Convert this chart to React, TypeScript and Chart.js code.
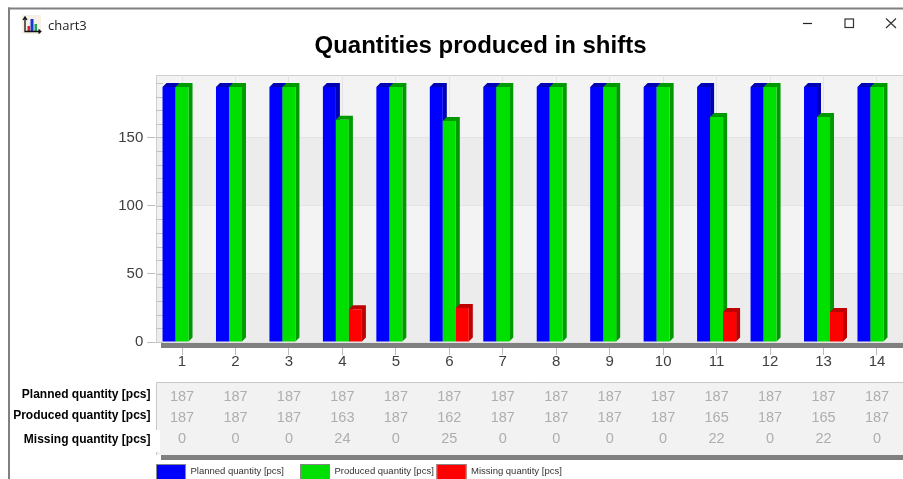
import React, { useEffect, useRef } from "react";
import { Chart, registerables } from "chart.js";

Chart.register(...registerables);

const shifts = ["1", "2", "3", "4", "5", "6", "7", "8", "9", "10", "11", "12", "13", "14"];
const planned = [187, 187, 187, 187, 187, 187, 187, 187, 187, 187, 187, 187, 187, 187];
const produced = [187, 187, 187, 163, 187, 162, 187, 187, 187, 187, 165, 187, 165, 187];
const missing = [0, 0, 0, 24, 0, 25, 0, 0, 0, 0, 22, 0, 22, 0];

const seriesLabels = ["Planned quantity [pcs]", "Produced quantity [pcs]", "Missing quantity [pcs]"];
const frontColors = ["#0000ff", "#00e000", "#ff0000"];
const sideColors = ["#0000b4", "#009a00", "#bf0000"];

const chartTitle = "Quantities produced in shifts";
const windowTitle = "chart3";

const SANS = '"Liberation Sans", Arial, sans-serif';
const DEPTH = 4;

// Wall bands, wall edges and the window frame sit beneath the scales.
const backdrop = {
  id: "backdrop",
  beforeDraw(chart: any) {
    const { ctx, chartArea: a, scales } = chart;
    const y = scales.y;
    ctx.save();
    ctx.fillStyle = "#ffffff";
    ctx.fillRect(0, 0, chart.width, chart.height);

    const wallLeft = 156;
    const edges = [0, 50, 100, 150, y.max];
    edges.slice(0, -1).forEach((v, i) => {
      const top = y.getPixelForValue(edges[i + 1]);
      const bottom = y.getPixelForValue(v);
      ctx.fillStyle = i % 2 === 0 ? "#ececec" : "#f3f3f3";
      ctx.fillRect(wallLeft, top, a.right - wallLeft, bottom - top);
    });

    ctx.strokeStyle = "#cfcfcf";
    ctx.lineWidth = 1;
    ctx.beginPath();
    ctx.moveTo(wallLeft + 0.5, y.getPixelForValue(0));
    ctx.lineTo(wallLeft + 0.5, a.top + 0.5);
    ctx.lineTo(chart.width, a.top + 0.5);
    ctx.stroke();

    // Window frame
    ctx.fillStyle = "#808080";
    ctx.fillRect(8, 7.5, chart.width, 2);
    ctx.fillRect(8, 7.5, 2, chart.height);

    // Window icon
    ctx.fillStyle = "#f6f1e7";
    ctx.fillRect(22, 15, 19, 19);
    ctx.fillStyle = "#e02020";
    ctx.fillRect(27.5, 26, 2.5, 5);
    ctx.fillStyle = "#1a35d8";
    ctx.fillRect(30.5, 19, 3, 12);
    ctx.fillStyle = "#17a35f";
    ctx.fillRect(34.5, 24, 2.5, 7);
    ctx.strokeStyle = "#111111";
    ctx.lineWidth = 1.3;
    ctx.beginPath();
    ctx.moveTo(23, 20);
    ctx.lineTo(25, 17);
    ctx.lineTo(27, 20);
    ctx.moveTo(25, 17);
    ctx.lineTo(25, 31.5);
    ctx.lineTo(40.5, 31.5);
    ctx.moveTo(38.5, 29.5);
    ctx.lineTo(40.8, 31.5);
    ctx.lineTo(38.5, 33.5);
    ctx.stroke();

    ctx.fillStyle = "#222222";
    ctx.font = '13px "Open Sans", sans-serif';
    ctx.textAlign = "left";
    ctx.textBaseline = "middle";
    ctx.fillText(windowTitle, 48, 26);

    // Window buttons
    ctx.strokeStyle = "#222222";
    ctx.lineWidth = 1.2;
    ctx.beginPath();
    ctx.moveTo(803, 23.5);
    ctx.lineTo(812, 23.5);
    ctx.stroke();
    ctx.strokeStyle = "#333333";
    ctx.strokeRect(845, 19, 8.5, 8.5);
    ctx.beginPath();
    ctx.moveTo(886, 18.5);
    ctx.lineTo(896, 28);
    ctx.moveTo(896, 18.5);
    ctx.lineTo(886, 28);
    ctx.stroke();

    ctx.fillStyle = "#000000";
    ctx.font = `bold 24px ${SANS}`;
    ctx.textAlign = "center";
    ctx.fillText(chartTitle, 480.5, 46.5);
    ctx.restore();
  },
};

// Extruded bars: the side and top faces come from each bar element, and the
// series are painted left to right so a neighbour covers the earlier side face.
const extrudedBars = {
  id: "extrudedBars",
  beforeDatasetsDraw(chart: any) {
    const { ctx, chartArea: a, scales } = chart;
    const floorY = scales.y.getPixelForValue(0);

    // Minor ticks on the wall
    ctx.save();
    ctx.strokeStyle = "#c4c4c4";
    ctx.lineWidth = 1;
    scales.y.ticks.forEach((t: any) => {
      const py = Math.round(scales.y.getPixelForValue(t.value)) + 0.5;
      ctx.beginPath();
      ctx.moveTo(156, py);
      ctx.lineTo(163, py);
      ctx.stroke();
    });

    // Floor
    ctx.fillStyle = "#808080";
    ctx.fillRect(161, floorY + 1, chart.width, 5);

    chart.data.datasets.forEach((ds: any, i: number) => {
      const meta = chart.getDatasetMeta(i);
      meta.data.forEach((bar: any, j: number) => {
        if (!ds.data[j]) return;
        const { x, y, width, base } = bar.getProps(["x", "y", "width", "base"], true);
        const l = x - width / 2;
        const r = x + width / 2;
        ctx.fillStyle = sideColors[i];
        ctx.beginPath();
        ctx.moveTo(l, y);
        ctx.lineTo(l + DEPTH, y - DEPTH);
        ctx.lineTo(r + DEPTH, y - DEPTH);
        ctx.lineTo(r + DEPTH, base - DEPTH);
        ctx.lineTo(r, base);
        ctx.lineTo(r, y);
        ctx.closePath();
        ctx.fill();
        bar.draw(ctx, a);
      });
    });
    ctx.restore();
    return false;
  },
};

// Data table beneath the axis and the legend row at the bottom edge.
const tableAndLegend = {
  id: "tableAndLegend",
  afterDraw(chart: any) {
    const { ctx, scales } = chart;
    const x = scales.x;
    const rows = [planned, produced, missing];
    const rowY = [396.7, 417.7, 438.5];
    const labelY = [395, 415.7, 440];
    ctx.save();

    ctx.fillStyle = "#f2f2f2";
    ctx.fillRect(156, 382, chart.width, 73);
    ctx.strokeStyle = "#c8c8c8";
    ctx.lineWidth = 1;
    ctx.beginPath();
    ctx.moveTo(156.5, 455);
    ctx.lineTo(156.5, 382.5);
    ctx.lineTo(chart.width, 382.5);
    ctx.stroke();
    ctx.fillStyle = "#808080";
    ctx.fillRect(161, 455, chart.width, 5);
    ctx.fillStyle = "#ffffff";
    ctx.fillRect(120, 430, 40, 22);

    ctx.textBaseline = "middle";
    ctx.textAlign = "center";
    ctx.font = `14.5px ${SANS}`;
    ctx.fillStyle = "#aeaeae";
    rows.forEach((row, r) => {
      row.forEach((v, c) => ctx.fillText(String(v), x.getPixelForTick(c), rowY[r]));
    });

    ctx.textAlign = "right";
    ctx.font = `bold 12px ${SANS}`;
    ctx.fillStyle = "#000000";
    seriesLabels.forEach((s, r) => ctx.fillText(s, 150.5, labelY[r]));

    const swatchX = [156, 300, 436.5];
    ctx.textAlign = "left";
    ctx.font = `9.5px ${SANS}`;
    seriesLabels.forEach((s, r) => {
      ctx.fillStyle = frontColors[r];
      ctx.fillRect(swatchX[r], 464, 30, 16);
      ctx.strokeStyle = "#888888";
      ctx.strokeRect(swatchX[r] + 0.5, 464.5, 29, 16);
      ctx.fillStyle = "#333333";
      ctx.fillText(s, swatchX[r] + 34.5, 471.7);
    });
    ctx.restore();
  },
};

export default function App() {
  const canvasRef = useRef<HTMLCanvasElement | null>(null);

  useEffect(() => {
    const chart = new Chart(canvasRef.current as HTMLCanvasElement, {
      type: "bar",
      data: {
        labels: shifts,
        datasets: [planned, produced, missing].map((data, i) => ({
          label: seriesLabels[i],
          data,
          backgroundColor: frontColors[i],
          borderWidth: 0,
          categoryPercentage: 0.7295,
          barPercentage: 1,
        })),
      },
      options: {
        responsive: false,
        animation: false,
        layout: { padding: { top: 75, right: 1.3, bottom: 107, left: 0 } },
        plugins: { legend: { display: false }, title: { display: false }, tooltip: { enabled: false } },
        scales: {
          x: {
            afterFit(scale: any) {
              scale.height = 30;
            },
            border: { display: false },
            grid: { offset: false, color: "#e3e3e3", tickColor: "#bdbdbd", tickLength: 13 },
            ticks: {
              color: "#404040",
              font: { family: SANS, size: 15 },
              padding: -2,
              maxRotation: 0,
              autoSkip: false,
            },
          },
          y: {
            min: 0,
            max: 195.8,
            afterFit(scale: any) {
              scale.width = 155.3;
            },
            border: { display: false },
            grid: {
              color: (c: any) => (c.tick && c.tick.value % 50 === 0 ? "#e3e3e3" : "rgba(0,0,0,0)"),
              tickColor: (c: any) => (c.tick && c.tick.value % 50 === 0 ? "#bdbdbd" : "rgba(0,0,0,0)"),
              tickLength: 8,
            },
            ticks: {
              stepSize: 10,
              includeBounds: false,
              autoSkip: false,
              color: "#404040",
              font: { family: SANS, size: 15 },
              padding: 4,
              callback: (v: any) => (Number(v) % 50 === 0 ? String(v) : ""),
            },
          },
        },
      },
      plugins: [backdrop, extrudedBars, tableAndLegend],
    } as any);
    return () => chart.destroy();
  }, []);

  return (
    <div style={{ position: "fixed", left: 0, top: 0, width: 903, height: 479, overflow: "hidden", background: "#fff" }}>
      <canvas ref={canvasRef} width={905} height={479} style={{ display: "block" }} />
    </div>
  );
}
